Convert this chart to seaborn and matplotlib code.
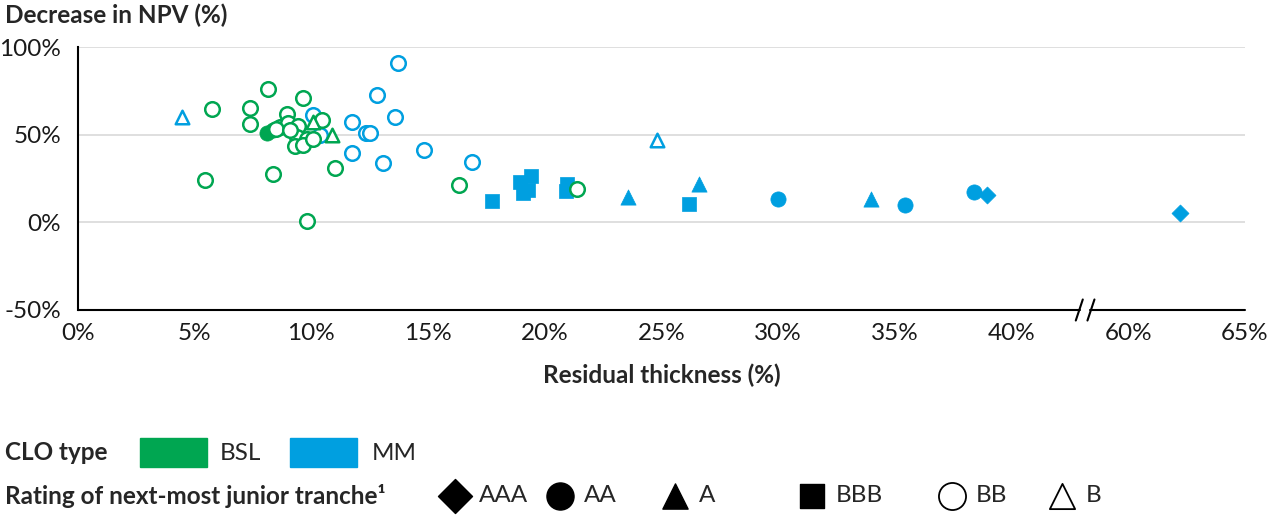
import numpy as np
import pandas as pd
import matplotlib.pyplot as plt
from matplotlib.patches import Rectangle
import seaborn as sns

# colours for the two CLO types
green = '#00A651'
blue = '#009FE0'

# BSL CLOs, (thickness %, decrease in NPV %) by rating of next-most junior tranche
bsl_aa_x = [8.10, 8.35]
bsl_aa_y = [51.0, 52.5]
bsl_bb_x = [5.73, 7.37, 7.37, 8.13, 9.65, 8.94, 8.65, 9.00, 9.44, 9.37, 9.80, 9.30, 9.65,
            10.07, 10.44, 11.01, 5.44, 8.34, 9.83, 16.34, 21.36, 8.50, 9.10]
bsl_bb_y = [64.6, 65.3, 55.8, 75.8, 70.7, 61.7, 54.5, 56.5, 55.2, 48.8, 47.8, 43.5, 44.0,
            47.5, 58.3, 31.0, 24.0, 27.4, 0.8, 21.1, 19.2, 53.0, 52.5]
bsl_b_x = [10.08, 10.87]
bsl_b_y = [57.3, 49.7]

# MM CLOs
mm_aaa_x = [38.96, 62.2]
mm_aaa_y = [15.8, 5.1]
mm_aa_x = [30.0, 35.43, 38.39]
mm_aa_y = [13.5, 10.1, 17.3]
mm_a_x = [23.57, 26.62, 33.96]
mm_a_y = [14.5, 22.1, 13.5]
mm_bbb_x = [17.72, 18.94, 19.39, 19.05, 19.30, 20.95, 20.90, 26.19]
mm_bbb_y = [12.2, 23.2, 26.3, 16.5, 18.5, 21.7, 17.9, 10.7]
mm_bb_x = [10.08, 10.35, 11.72, 11.72, 12.35, 12.50, 12.80, 13.05, 13.70, 13.60, 14.84, 16.87]
mm_bb_y = [61.5, 49.7, 57.3, 39.6, 51.0, 51.2, 72.6, 34.1, 91.1, 59.8, 41.1, 34.5]
mm_b_x = [4.44, 24.79]
mm_b_y = [60.2, 46.9]

ratings = ['AAA', 'AA', 'A', 'BBB', 'BB', 'B']
x_ticks = [0, 5, 10, 15, 20, 25, 30, 35, 40, 60, 65]
y_ticks = [-50, 0, 50, 100]

groups = [
    ('BSL', 'AA', bsl_aa_x, bsl_aa_y),
    ('MM', 'AAA', mm_aaa_x, mm_aaa_y),
    ('MM', 'AA', mm_aa_x, mm_aa_y),
    ('MM', 'A', mm_a_x, mm_a_y),
    ('MM', 'BBB', mm_bbb_x, mm_bbb_y),
    ('MM', 'BB', mm_bb_x, mm_bb_y),
    ('MM', 'B', mm_b_x, mm_b_y),
    ('BSL', 'BB', bsl_bb_x, bsl_bb_y),
    ('BSL', 'B', bsl_b_x, bsl_b_y),
]
rows = []
for clo, rat, xs, ys in groups:
    for x, y in zip(xs, ys):
        rows.append((clo, rat, x, y))
df = pd.DataFrame(rows, columns=['clo', 'rating', 'thickness', 'npv'])


def axis_pos(x):
    # broken axis: 40% is followed directly by 60%
    x = np.asarray(x, dtype=float)
    return np.where(x > 50, x - 15, x)


df['xpos'] = axis_pos(df['thickness'])

markers = {'AAA': 'D', 'AA': 'o', 'A': '^', 'BBB': 's', 'BB': 'o', 'B': '^'}
sizes = {'AAA': 75, 'AA': 120, 'A': 120, 'BBB': 110, 'BB': 110, 'B': 95}
open_ratings = ['BB', 'B']
palette = {'BSL': green, 'MM': blue}

sns.set_style('white')
plt.rcParams['font.family'] = ['Lato', 'DejaVu Sans']
fs = 17.5

fig = plt.figure(figsize=(12.69, 5.15), dpi=100)
ax = fig.add_axes([78 / 1269, 1 - 310 / 515, (1245 - 78) / 1269, (310 - 47) / 515])

for clo, rat, xs, ys in groups:
    sub = df[(df.clo == clo) & (df.rating == rat)]
    if rat in open_ratings:
        sns.scatterplot(data=sub, x='xpos', y='npv', ax=ax, marker=markers[rat],
                        s=sizes[rat], facecolor='white', edgecolor=palette[clo],
                        linewidth=1.8, legend=False, zorder=3)
    else:
        sns.scatterplot(data=sub, x='xpos', y='npv', ax=ax, marker=markers[rat],
                        s=sizes[rat], color=palette[clo], edgecolor=palette[clo],
                        linewidth=0.5, legend=False, zorder=3)

ax.set_xlim(0, 50)
ax.set_ylim(-50, 100)
ax.set_xticks(axis_pos(x_ticks))
ax.set_xticklabels([f'{t}%' for t in x_ticks])
ax.set_yticks(y_ticks)
ax.set_yticklabels([f'{t}%' for t in y_ticks])
ax.tick_params(axis='both', labelsize=fs, length=0, colors='#1a1a1a')
ax.tick_params(axis='x', pad=9)
ax.tick_params(axis='y', pad=12)
ax.set_xlabel('')
ax.set_ylabel('')
for t in [0, 50, 100]:
    ax.axhline(t, color='#D9D9D9', lw=1.2, zorder=1)

for s in ['top', 'right', 'bottom']:
    ax.spines[s].set_visible(False)
ax.spines['left'].set_color('black')
ax.spines['left'].set_linewidth(1.5)

# bottom axis line with a break between 40% and 60%
brk1, brk2 = 42.9, 43.4
ax.plot([0, brk1 + 0.05], [-50, -50], color='black', lw=1.5, clip_on=False, zorder=4)
ax.plot([brk2 - 0.05, 50], [-50, -50], color='black', lw=1.5, clip_on=False, zorder=4)
for b in (brk1, brk2):
    ax.plot([b - 0.15, b + 0.15], [-56, -44], color='black', lw=1.5, clip_on=False, zorder=4)

fig.text(5 / 1269, 1 - 15 / 515, 'Decrease in NPV (%)', fontsize=fs, fontweight='bold',
         va='center', ha='left')
fig.text(662 / 1269, 1 - 375 / 515, 'Residual thickness (%)', fontsize=fs, fontweight='bold',
         va='center', ha='center')

# legend area drawn in pixel coordinates
lg = fig.add_axes([0, 0, 1, 1])
lg.set_xlim(0, 1269)
lg.set_ylim(515, 0)
lg.axis('off')
lg.text(5, 453, 'CLO type', fontsize=fs, fontweight='bold', va='center')
lg.add_patch(Rectangle((140, 438), 67, 29, color=green))
lg.text(220, 453, 'BSL', fontsize=fs, va='center')
lg.add_patch(Rectangle((290, 438), 67, 29, color=blue))
lg.text(372, 453, 'MM', fontsize=fs, va='center')

lg.text(5, 496, 'Rating of next-most junior tranche¹', fontsize=fs,
        fontweight='bold', va='center')
leg_x = [455, 560, 675, 812, 952, 1062]
leg_size = {'AAA': 300, 'AA': 380, 'A': 330, 'BBB': 300, 'BB': 380, 'B': 330}
for rat, lx in zip(ratings, leg_x):
    if rat in open_ratings:
        lg.scatter(lx, 496, marker=markers[rat], s=leg_size[rat], facecolor='white',
                   edgecolor='black', linewidth=1.3)
    else:
        lg.scatter(lx, 496, marker=markers[rat], s=leg_size[rat], color='black')
    lg.text(lx + 24, 496, rat, fontsize=fs, va='center')

fig.savefig('out.png', dpi=100)
